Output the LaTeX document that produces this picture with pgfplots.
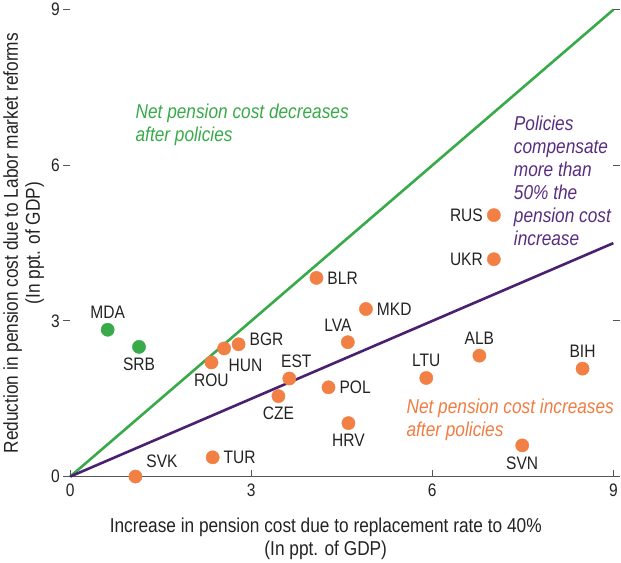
\documentclass[border=0pt]{standalone}
\usepackage{fontspec}
\setmainfont{Liberation Sans}[FakeStretch=0.86]
\usepackage{pgfplots}
\pgfplotsset{compat=1.18}
\definecolor{lgreen}{RGB}{57,170,73}
\definecolor{lpurple}{RGB}{74,32,112}
\definecolor{tpurple}{RGB}{88,45,128}
\definecolor{dotorange}{RGB}{242,128,68}
\definecolor{torange}{RGB}{240,124,66}
\definecolor{axgray}{RGB}{85,85,85}
\definecolor{lblgray}{RGB}{35,35,35}

% one style per label placement: the argument is the label node's anchor
\pgfplotsset{
  ctry/.style={
    only marks, mark=*, mark size=6.6pt,
    point meta=explicit symbolic,
    nodes near coords,
    every node near coord/.append style={anchor=#1,
      inner sep=0pt, outer sep=11pt, text=lblgray,
      font=\fontsize{18}{20}\selectfont},
  },
}

\begin{document}
\begin{tikzpicture}
\begin{axis}[
  scale only axis,
  width=541pt, height=465pt,
  xmin=0, xmax=9, ymin=0, ymax=9,
  xtick={0,3,6,9}, ytick={0,3,6,9},
  xtick pos=left, ytick pos=both,
  xtick align=inside, ytick align=outside,
  major tick length=7pt,
  tick style={axgray, line width=0.9pt},
  axis line style={draw=none},
  /pgf/number format/assume math mode=true,
  ticklabel style={font=\fontsize{18}{20}\selectfont, text=lblgray},
  xticklabel style={yshift=-4pt},
  xlabel={Increase in pension cost due to replacement rate to 40\%\\(In ppt. of GDP)},
  ylabel={Reduction in pension cost due to Labor market reforms\\(In ppt. of GDP)},
  xlabel style={align=center, font=\fontsize{20}{23}\selectfont, text=lblgray,
    xshift=-16pt, yshift=-14pt},
  ylabel style={align=center, font=\fontsize{20}{22}\selectfont, text=lblgray},
  clip=false,
]
\draw[axgray, line width=1.2pt] (axis cs:0,0) -- (axis cs:9,0);

\addplot[lgreen, line width=2.6pt] coordinates {(0,0) (9,9)};
\addplot[lpurple, line width=2.6pt] coordinates {(0,0) (9,4.5)};

% green: net pension cost decreases
\addplot[ctry=south, color=lgreen] table[meta=name] {
x y name
0.62 2.83 MDA
};
\addplot[ctry=north, color=lgreen] table[meta=name] {
x y name
1.14 2.50 SRB
};

% orange: net pension cost increases
\addplot[ctry=north, color=dotorange] table[meta=name] {
x y name
2.34 2.20 ROU
3.45 1.55 CZE
4.61 1.03 HRV
7.49 0.60 SVN
};
\addplot[ctry=south, color=dotorange] table[meta=name] {
x y name
5.90 1.90 LTU
6.78 2.33 ALB
8.49 2.08 BIH
};
\addplot[ctry=west, color=dotorange] table[meta=name] {
x y name
4.08 3.83 BLR
4.90 3.23 MKD
4.28 1.72 POL
2.36 0.37 TUR
};
\addplot[ctry=east, color=dotorange] table[meta=name] {
x y name
7.02 5.04 RUS
7.02 4.19 UKR
};
\addplot[ctry=141, color=dotorange] table[meta=name] {
x y name
2.55 2.47 HUN
};
\addplot[ctry=191, color=dotorange] table[meta=name] {
x y name
2.79 2.55 BGR
};
\addplot[ctry=248, color=dotorange] table[meta=name] {
x y name
3.63 1.89 EST
};
\addplot[ctry=300, color=dotorange] table[meta=name] {
x y name
4.60 2.59 LVA
};
\addplot[ctry=210, color=dotorange] table[meta=name] {
x y name
1.08 0.00 SVK
};

\node[anchor=north west, align=left, text=lgreen, inner sep=0pt,
  font=\fontsize{20}{23}\itshape\selectfont] at (axis cs:1.08,7.19)
  {Net pension cost decreases\\after policies};
\node[anchor=north west, align=left, text=tpurple, inner sep=0pt,
  font=\fontsize{20}{23}\itshape\selectfont] at (axis cs:7.35,6.96)
  {Policies\\compensate\\more than\\50\% the\\pension cost\\increase};
\node[anchor=north west, align=left, text=torange, inner sep=0pt,
  font=\fontsize{20}{23}\itshape\selectfont] at (axis cs:5.57,1.50)
  {Net pension cost increases\\after policies};
\end{axis}
\end{tikzpicture}
\end{document}
